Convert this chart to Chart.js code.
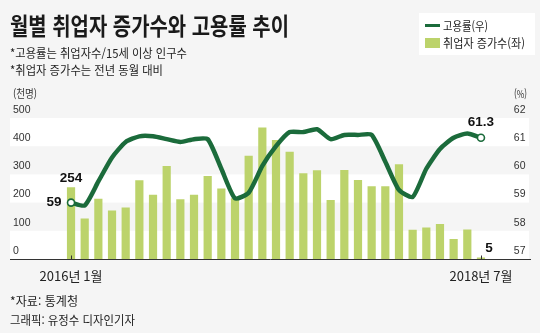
<!DOCTYPE html>
<html lang="ko">
<head>
<meta charset="utf-8">
<script src="https://cdn.jsdelivr.net/npm/chart.js@4"></script>
<style>
  html, body { margin:0; padding:0; }
  body { width:540px; height:333px; overflow:hidden; position:relative; background:#f5f5f5; font-family:'Noto Sans CJK KR', sans-serif; color:#222; }
  canvas { position:absolute; left:0; top:0; }
  .t { position:absolute; white-space:nowrap; display:inline-block; transform-origin:0 50%; }
  #legend { position:absolute; left:419px; top:13px; width:116px; height:42px; background:#ffffff; }
  .sw { position:absolute; }
</style>
</head>
<body>
<div id="legend"></div>
<div class="sw" style="left:425px; top:23.5px; width:15px; height:3px; background:#1b6b3b;"></div>
<div class="sw" style="left:425px; top:38px; width:15px; height:10px; background:#bcd36b;"></div>
<canvas id="c" width="540" height="333"></canvas>

<div class="t" data-w="279" style="left:10px; top:12px; font-size:24px; line-height:25px; font-weight:700; color:#1a1a1a;">월별 취업자 증가수와 고용률 추이</div>
<div class="t" data-w="177" style="left:10px; top:45.5px; font-size:12px; line-height:13px;">*고용률는 취업자수/15세 이상 인구수</div>
<div class="t" data-w="153" style="left:10px; top:62.5px; font-size:12px; line-height:13px;">*취업자 증가수는 전년 동월 대비</div>
<div class="t" data-w="45" style="left:443px; top:18.5px; font-size:12px; line-height:13px;">고용률(우)</div>
<div class="t" data-w="82" style="left:443px; top:36px; font-size:12px; line-height:13px;">취업자 증가수(좌)</div>
<div class="t" data-w="24" style="left:13px; top:87px; font-size:11px; line-height:12px; color:#333;">(천명)</div>
<div class="t" data-w="13" style="left:514px; top:87px; font-size:11px; line-height:12px; color:#333;">(%)</div>
<div class="t" data-w="68" style="left:10px; top:294px; font-size:12px; line-height:13px;">*자료: 통계청</div>
<div class="t" data-w="125" style="left:10px; top:312.5px; font-size:12px; line-height:13px;">그래픽: 유정수 디자인기자</div>

<script>
// ---- data ----
const months = [
  '2016년 1월','2016년 2월','2016년 3월','2016년 4월','2016년 5월','2016년 6월',
  '2016년 7월','2016년 8월','2016년 9월','2016년 10월','2016년 11월','2016년 12월',
  '2017년 1월','2017년 2월','2017년 3월','2017년 4월','2017년 5월','2017년 6월',
  '2017년 7월','2017년 8월','2017년 9월','2017년 10월','2017년 11월','2017년 12월',
  '2018년 1월','2018년 2월','2018년 3월','2018년 4월','2018년 5월','2018년 6월',
  '2018년 7월'
];
// 취업자 증가수 (천명, 좌축)
const growth = [
  254, 144, 214, 172, 183, 279, 228, 330, 212, 228, 294, 250,
  215, 366, 466, 422, 380, 304, 315, 209, 316, 280, 258, 258,
  336, 104, 112, 124, 71, 105, 5
];
// 고용률 (%, 우축)
const rate = [
  59.0, 58.9, 59.75, 60.6, 61.15, 61.35, 61.35, 61.25, 61.15, 61.25, 61.25, 60.2,
  59.15, 59.35, 60.3, 61.0, 61.5, 61.5, 61.6, 61.25, 61.4, 61.4, 61.4, 60.45,
  59.45, 59.2, 60.2, 60.9, 61.3, 61.45, 61.3
];
const leftTicks = [0, 100, 200, 300, 400, 500];
const rightTicks = [57, 58, 59, 60, 61, 62];

// ---- styles ----
const LINE = '#1b6b3b';
const BAR = '#bcd36b';
const NUM_FONT = "'Liberation Sans', Arial, sans-serif";
const KO_FONT = "'Noto Sans CJK KR', sans-serif";
const last = months.length - 1;

const deco = {
  id: 'deco',
  beforeDraw(chart) {
    const { ctx } = chart;
    const y = chart.scales.y;
    ctx.save();
    ctx.fillStyle = '#ffffff';
    for (let i = 0; i < leftTicks.length - 1; i += 2) {
      const top = y.getPixelForValue(leftTicks[i + 1]);
      const bot = y.getPixelForValue(leftTicks[i]);
      ctx.fillRect(10, top, 519, bot - top);
    }
    ctx.restore();
  },
  afterDatasetsDraw(chart) {
    const { ctx } = chart;
    const x = chart.scales.x, y = chart.scales.y;
    const base = Math.round(y.getPixelForValue(0)) + 0.5;
    ctx.save();
    ctx.strokeStyle = '#333333';
    ctx.lineWidth = 1;
    ctx.beginPath();
    ctx.moveTo(10, base); ctx.lineTo(531, base);
    [0, last].forEach(i => {
      const px = Math.round(x.getPixelForValue(i)) + 0.5;
      ctx.moveTo(px, base - 4); ctx.lineTo(px, base);
    });
    ctx.stroke();

    const bars = chart.getDatasetMeta(1).data;
    const pts = chart.getDatasetMeta(0).data;
    ctx.fillStyle = '#111111';
    ctx.font = 'bold 13.5px ' + NUM_FONT;
    ctx.textBaseline = 'middle';
    ctx.textAlign = 'center';
    ctx.fillText(String(growth[0]), bars[0].x, bars[0].y - 9);
    ctx.fillText(String(growth[last]), bars[last].x + 8, bars[last].y - 9);
    ctx.fillText(String(rate[last]), pts[last].x, pts[last].y - 15);
    ctx.textAlign = 'right';
    ctx.fillText(String(rate[0]), pts[0].x - 9.5, pts[0].y);
    ctx.restore();
  }
};

new Chart(document.getElementById('c'), {
  type: 'bar',
  data: {
    labels: months,
    datasets: [
      {
        type: 'line',
        label: '고용률(우)',
        data: rate,
        yAxisID: 'y1',
        borderColor: LINE,
        borderWidth: 4.5,
        tension: 0.2,
        borderJoinStyle: 'round',
        borderCapStyle: 'round',
        pointRadius: months.map((_, i) => (i === 0 || i === last) ? 3.5 : 0),
        pointBackgroundColor: '#ffffff',
        pointBorderColor: LINE,
        pointBorderWidth: 1.6,
        order: 0
      },
      {
        type: 'bar',
        label: '취업자 증가수(좌)',
        data: growth,
        yAxisID: 'y',
        backgroundColor: BAR,
        barPercentage: 0.6,
        categoryPercentage: 1,
        order: 1
      }
    ]
  },
  options: {
    responsive: false,
    animation: false,
    devicePixelRatio: 1,
    layout: { padding: { left: 13, right: 0, top: 118, bottom: 44 } },
    plugins: { legend: { display: false }, tooltip: { enabled: false } },
    scales: {
      x: {
        grid: { display: false, drawTicks: false },
        border: { display: false },
        ticks: {
          autoSkip: false, maxRotation: 0, minRotation: 0, padding: 9,
          color: '#222', font: { family: KO_FONT, size: 13 },
          callback: (v, i) => (i === 0 || i === last) ? months[i] : ''
        },
        afterFit: s => { s.height = 30; }
      },
      y: {
        position: 'left',
        min: leftTicks[0], max: leftTicks[leftTicks.length - 1],
        afterBuildTicks: s => { s.ticks = leftTicks.map(v => ({ value: v })); },
        grid: { display: false, drawTicks: false },
        border: { display: false },
        ticks: { crossAlign: 'far', labelOffset: -8, padding: 0, color: '#333', font: { family: NUM_FONT, size: 10.5 } },
        afterFit: s => { s.width = 51.2; }
      },
      y1: {
        position: 'right',
        min: rightTicks[0], max: rightTicks[rightTicks.length - 1],
        afterBuildTicks: s => { s.ticks = rightTicks.map(v => ({ value: v })); },
        grid: { display: false, drawTicks: false },
        border: { display: false },
        ticks: { labelOffset: -8, padding: 26, color: '#333', font: { family: NUM_FONT, size: 10.5 } },
        afterFit: s => { s.width = 52.2; }
      }
    }
  },
  plugins: [deco]
});

function fitTexts() {
  document.querySelectorAll('.t[data-w]').forEach(el => {
    el.style.transform = 'none';
    const w = el.getBoundingClientRect().width;
    const target = parseFloat(el.dataset.w);
    if (w > 0) el.style.transform = 'scaleX(' + (target / w).toFixed(4) + ')';
  });
}
fitTexts();
if (document.fonts && document.fonts.ready) document.fonts.ready.then(fitTexts);
</script>
</body>
</html>
